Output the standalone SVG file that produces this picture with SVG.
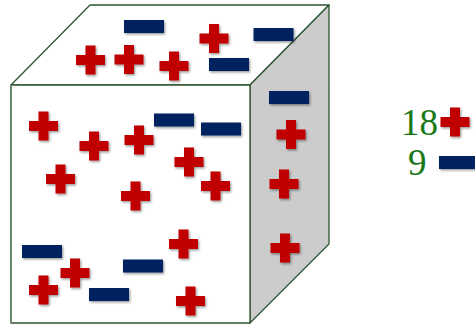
<svg xmlns="http://www.w3.org/2000/svg" xmlns:xlink="http://www.w3.org/1999/xlink" width="475" height="324" viewBox="0 0 475 324">
<style>
.edge{stroke:#2f5530;stroke-width:1.3;stroke-linejoin:round}
.p{fill:#C00000}
.m{fill:#002060}
.num{font-family:"Liberation Serif",serif;font-size:37px;fill:#187818}
</style>
<defs>
<filter id="sh" x="-30%" y="-30%" width="160%" height="160%">
<feDropShadow dx="1.2" dy="1.5" stdDeviation="0.9" flood-color="#000" flood-opacity="0.4"/>
</filter>
<path id="plus" d="M-5,-14.5H5V-5H14.5V5H5V14.5H-5V5H-14.5V-5H-5Z"/>
<rect id="minus" x="-20" y="-6.5" width="40" height="13"/>
</defs>
<g id="cube">
<polygon id="top" class="edge" points="11,85 90,5 329,5 250,85" fill="#ffffff"/>
<polygon id="side" class="edge" points="250,85 329,5 329,244 250,323" fill="#cccccc"/>
<polygon id="front" class="edge" points="11,85 250,85 250,323 11,323" fill="#ffffff"/>
<line x1="11" y1="85" x2="11" y2="323" stroke="#6b8a6b" stroke-width="2"/>
</g>
<g id="charges" filter="url(#sh)">
<use href="#minus" class="m" x="144" y="26.5"/>
<use href="#minus" class="m" x="273.5" y="34.5"/>
<use href="#minus" class="m" x="229" y="64.5"/>
<use href="#minus" class="m" x="289" y="97.5"/>
<use href="#plus" class="p" x="90.5" y="60"/>
<use href="#plus" class="p" x="129" y="59.5"/>
<use href="#plus" class="p" x="174" y="66"/>
<use href="#plus" class="p" x="214" y="38.5"/>
<use href="#plus" class="p" x="43.5" y="126"/>
<use href="#plus" class="p" x="94" y="146"/>
<use href="#plus" class="p" x="139" y="140"/>
<use href="#minus" class="m" x="174" y="120"/>
<use href="#minus" class="m" x="221" y="129"/>
<use href="#plus" class="p" x="291" y="134.5"/>
<use href="#plus" class="p" x="189" y="162"/>
<use href="#plus" class="p" x="60.5" y="179"/>
<use href="#plus" class="p" x="215.5" y="186"/>
<use href="#plus" class="p" x="284" y="184"/>
<use href="#plus" class="p" x="135.5" y="196"/>
<use href="#minus" class="m" x="42" y="251.5"/>
<use href="#plus" class="p" x="183.5" y="244"/>
<use href="#plus" class="p" x="285" y="248"/>
<use href="#minus" class="m" x="143" y="266"/>
<use href="#plus" class="p" x="75" y="273"/>
<use href="#plus" class="p" x="43.5" y="290"/>
<use href="#minus" class="m" x="109" y="294.5"/>
<use href="#plus" class="p" x="190.5" y="301"/>
</g>
<g id="legend">
<text class="num" x="401" y="135">18</text>
<text class="num" x="408" y="175">9</text>
<g filter="url(#sh)">
<use href="#plus" class="p" x="455" y="122"/>
<use href="#minus" class="m" x="459" y="162.5"/>
</g>
</g>
</svg>
